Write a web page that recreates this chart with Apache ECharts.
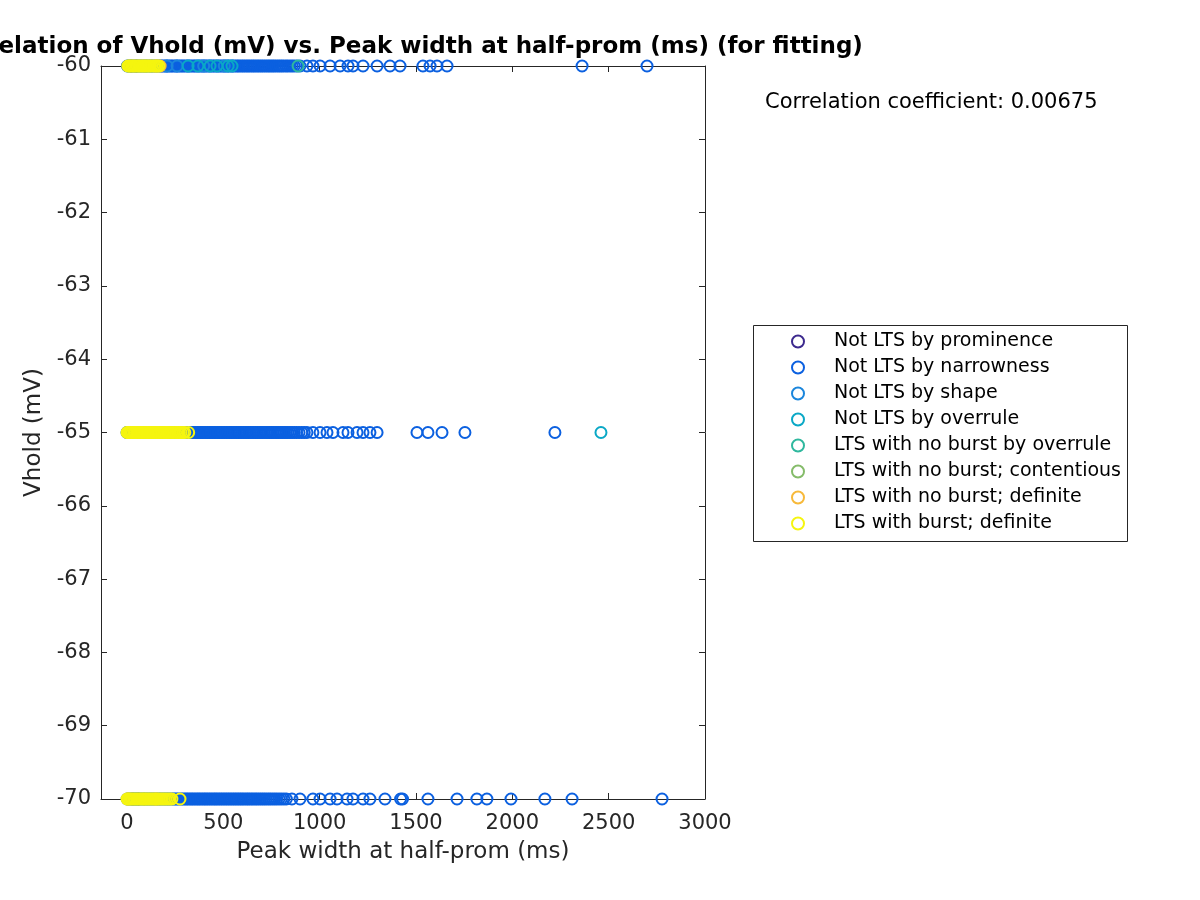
<!DOCTYPE html>
<html>
<head>
<meta charset="utf-8">
<script src="https://cdn.jsdelivr.net/npm/echarts@6/dist/echarts.min.js"></script>
<style>html,body{margin:0;padding:0;background:#fff}#c{width:1200px;height:900px}</style>
</head>
<body>
<div id="c"></div>
<script>
// ---- Data (x = peak width at half-prom in ms) per Vhold level ----
const categories = [
  'Not LTS by prominence',
  'Not LTS by narrowness',
  'Not LTS by shape',
  'Not LTS by overrule',
  'LTS with no burst by overrule',
  'LTS with no burst; contentious',
  'LTS with no burst; definite',
  'LTS with burst; definite'
];
const vholdLevels = [-60, -65, -70];
const xTicks = [0, 500, 1000, 1500, 2000, 2500, 3000];
const yTicks = [-70, -69, -68, -67, -66, -65, -64, -63, -62, -61, -60];

// Not LTS by prominence
const prominence60 = [22, 48];
const prominence65 = [15, 40, 71];
const prominence70 = [30, 58];

// Not LTS by narrowness
const narrow60 = [2, 8, 17, 25, 34, 41, 49, 58, 67, 74, 83, 91, 100, 108, 118, 126, 133, 143, 152, 159, 169, 177, 185, 195, 203, 211, 221, 229, 237, 247, 255, 263, 273, 281, 290, 298, 308, 316, 325, 333, 343, 351, 359, 369, 378, 386, 394, 404, 412, 421, 430, 440, 448, 456, 466, 475, 483, 492, 501, 511, 519, 527, 537, 546, 554, 564, 573, 581, 591, 600, 609, 619, 628, 637, 647, 656, 665, 675, 684, 694, 703, 713, 723, 733, 742, 752, 761, 771, 782, 792, 802, 812, 824, 834, 846, 857, 868, 881, 898, 934, 965, 1002, 1054, 1106, 1147, 1173, 1225, 1298, 1365, 1417, 1536, 1573, 1609, 1661, 2362, 2699];
const narrow65 = [0, 7, 15, 23, 32, 40, 48, 57, 66, 73, 82, 90, 99, 107, 116, 124, 133, 141, 150, 158, 167, 175, 184, 193, 201, 209, 218, 227, 236, 244, 253, 261, 270, 279, 287, 296, 305, 313, 322, 331, 339, 348, 357, 366, 374, 383, 392, 400, 409, 418, 427, 435, 444, 453, 462, 471, 479, 488, 497, 506, 515, 524, 532, 541, 550, 559, 568, 577, 586, 595, 604, 613, 622, 631, 640, 649, 658, 667, 676, 685, 694, 703, 712, 722, 731, 740, 749, 758, 768, 777, 786, 796, 805, 815, 825, 835, 846, 857, 868, 880, 893, 907, 920, 934, 965, 1002, 1038, 1069, 1121, 1147, 1194, 1225, 1261, 1298, 1505, 1562, 1635, 1754, 2221];
const narrow70 = [1, 8, 16, 24, 33, 41, 49, 58, 66, 74, 83, 91, 100, 108, 117, 125, 134, 142, 151, 159, 168, 176, 185, 194, 202, 211, 219, 228, 237, 245, 254, 262, 271, 280, 288, 297, 306, 314, 323, 332, 340, 349, 358, 367, 375, 384, 393, 402, 410, 419, 428, 437, 446, 455, 463, 472, 481, 490, 499, 508, 517, 526, 535, 544, 553, 562, 571, 580, 589, 598, 607, 617, 626, 635, 645, 654, 664, 673, 683, 693, 703, 713, 723, 734, 744, 755, 766, 777, 789, 801, 814, 827, 856, 898, 965, 1002, 1054, 1090, 1142, 1173, 1225, 1261, 1339, 1420, 1430, 1562, 1713, 1816, 1868, 1993, 2169, 2310, 2777];

// Not LTS by shape
const shape60 = [208, 260, 398, 505];
const shape65 = [60];
const shape70 = [45];

// Not LTS by overrule
const overrule60 = [317, 368, 431, 467, 525, 545];
const overrule65 = [2460];
const overrule70 = [];

// LTS with no burst by overrule
const ltsOverrule60 = [888];
const ltsOverrule65 = [];
const ltsOverrule70 = [];

// LTS with no burst; contentious
const contentious60 = [95];
const contentious65 = [120];
const contentious70 = [88];

// LTS with no burst; definite
const definite60 = [150, 172];
const definite65 = [10, 205, 268];
const definite70 = [3, 150];

// LTS with burst; definite
const burst60 = [4, 10, 17, 24, 31, 38, 45, 52, 60, 67, 75, 82, 90, 98, 106, 114, 122, 130, 139, 148, 157, 165];
const burst65 = [0, 6, 13, 20, 27, 35, 42, 49, 57, 64, 72, 79, 87, 95, 102, 110, 118, 126, 134, 142, 150, 158, 166, 175, 183, 191, 200, 208, 217, 226, 235, 244, 253, 262, 272, 281, 292, 300, 320];
const burst70 = [0, 6, 13, 20, 27, 34, 41, 49, 56, 63, 71, 78, 86, 94, 101, 109, 117, 125, 133, 141, 149, 158, 166, 175, 184, 193, 202, 212, 222, 233, 275];

const seriesX = [
  [prominence60, prominence65, prominence70],
  [narrow60, narrow65, narrow70],
  [shape60, shape65, shape70],
  [overrule60, overrule65, overrule70],
  [ltsOverrule60, ltsOverrule65, ltsOverrule70],
  [contentious60, contentious65, contentious70],
  [definite60, definite65, definite70],
  [burst60, burst65, burst70]
];
const colors = ['#3d2a8e', '#0b60e0', '#1b86dc', '#0aa8c6', '#2fb89e', '#85bc6a', '#f7b93a', '#f5f50f'];

const series = categories.map((name, i) => {
  const data = [];
  seriesX[i].forEach((arr, k) => arr.forEach(x => data.push([x, vholdLevels[k]])));
  return {
    name, type: 'scatter', data,
    symbol: 'circle', symbolSize: 11,
    itemStyle: { color: 'rgba(0,0,0,0)', borderColor: colors[i], borderWidth: 2, opacity: 1 },
    emphasis: { disabled: true },
    xAxisIndex: 0, yAxisIndex: 0, z: 2 + i
  };
});

const txt = '#262626';
const FONT = 'DejaVu Sans';
const grid = { left: 101, right: 495, top: 66, bottom: 101, containLabel: false };
const baseX = {
  type: 'value', min: -135, max: 3000,
  axisLine: { show: true, onZero: false, lineStyle: { color: txt, width: 1 } },
  axisTick: { show: true, inside: true, length: 6, customValues: xTicks, lineStyle: { color: txt } },
  splitLine: { show: false }
};
const baseY = {
  type: 'value', min: -70, max: -60, interval: 1,
  axisLine: { show: true, onZero: false, lineStyle: { color: txt, width: 1 } },
  axisTick: { show: true, inside: true, length: 6, lineStyle: { color: txt } },
  splitLine: { show: false }
};

const chart = echarts.init(document.getElementById('c'), null, { renderer: 'canvas' });
chart.setOption({
  animation: false,
  backgroundColor: '#ffffff',
  textStyle: { fontFamily: FONT },
  grid,
  xAxis: [
    Object.assign({}, baseX, {
      position: 'bottom',
      name: 'Peak width at half-prom (ms)', nameLocation: 'middle', nameGap: 42,
      nameTextStyle: { fontSize: 23, color: txt, fontFamily: FONT },
      axisLabel: { show: true, customValues: xTicks, fontSize: 21, color: txt, margin: 14, fontFamily: FONT,
        formatter: v => String(v) }
    }),
    Object.assign({}, baseX, { position: 'top', axisLabel: { show: false } })
  ],
  yAxis: [
    Object.assign({}, baseY, {
      position: 'left',
      name: 'Vhold (mV)', nameLocation: 'middle', nameGap: 49, nameRotate: 90,
      nameTextStyle: { fontSize: 23, color: txt, fontFamily: FONT },
      axisLabel: { show: true, fontSize: 21, color: txt, margin: 10, fontFamily: FONT,
        formatter: v => String(v), padding: [3, 0, 0, 0] }
    }),
    Object.assign({}, baseY, { position: 'right', axisLabel: { show: false } })
  ],
  legend: {
    show: true, orient: 'vertical', left: 753, top: 325,
    padding: [7, 10, 9, 38], itemGap: 7, itemWidth: 12, itemHeight: 12,
    icon: 'circle',
    data: categories.map((n, i) => ({ name: n, itemStyle: { color: 'rgba(0,0,0,0)', borderColor: colors[i], borderWidth: 2 } })),
    textStyle: { fontSize: 19, color: '#000', lineHeight: 18, padding: [0, 0, 0, 25], fontFamily: FONT },
    selectedMode: false
  },
  graphic: [
    { type: 'rect', shape: { x: 753.5, y: 325.5, width: 374, height: 216 }, style: { fill: 'none', stroke: txt, lineWidth: 1 }, z: 0, silent: true },
    { type: 'text', x: 403, y: 47, style: { text: 'Correlation of Vhold (mV) vs. Peak width at half-prom (ms) (for fitting)', font: 'bold 23px "DejaVu Sans"', fill: '#000', textAlign: 'center', textVerticalAlign: 'middle' } },
    { type: 'text', x: 765, y: 103, style: { text: 'Correlation coefficient: 0.00675', font: '21px "DejaVu Sans"', fill: '#000', textAlign: 'left', textVerticalAlign: 'middle' } }
  ],
  series
});
</script>
</body>
</html>
